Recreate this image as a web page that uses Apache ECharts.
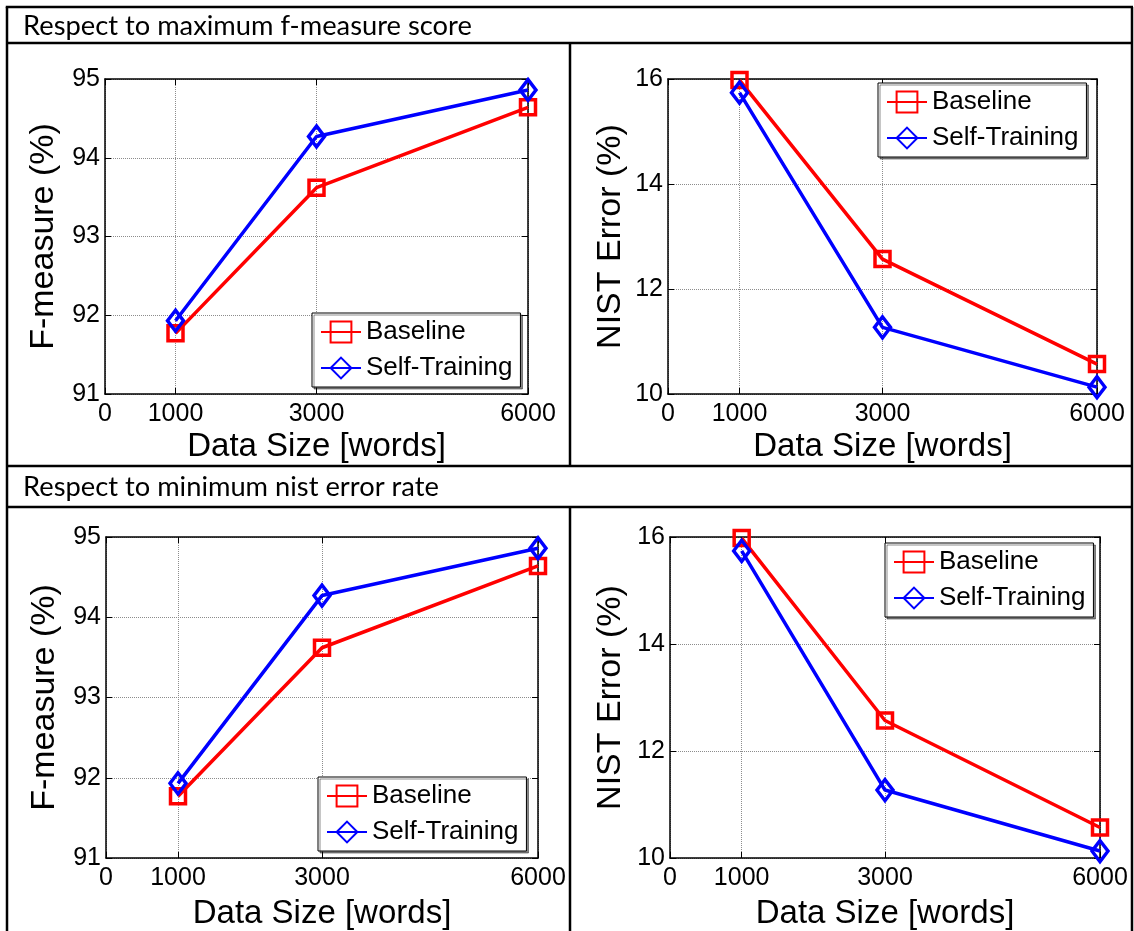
<!DOCTYPE html>
<html>
<head>
<meta charset="utf-8">
<script src="https://cdn.jsdelivr.net/npm/echarts@6/dist/echarts.min.js"></script>
<style>
  html, body { margin: 0; padding: 0; background: #fff; }
  #chart { width: 1134px; height: 931px; }
</style>
</head>
<body>
<div id="chart"></div>
<script>
// Data size (words) on the x axis, and tick positions
const dataSizes = [1000, 3000, 6000];
const xTicks = [0, 1000, 3000, 6000];

// F-measure (%) per data size
const baselineF = [91.77, 93.62, 94.64];
const selfTrainingF = [91.93, 94.27, 94.86];

// NIST error (%) per data size
const baselineNist = [15.98, 12.57, 10.57];
const selfTrainingNist = [15.74, 11.27, 10.13];

// Value ranges and tick steps of the two y axes
const fRange = [91, 95, 1];
const nistRange = [10, 16, 2];

const seriesNames = ['Baseline', 'Self-Training'];
const sectionTitles = ['Respect to maximum f-measure score', 'Respect to minimum nist error rate'];
const xName = 'Data Size [words]';
const fName = 'F-measure (%)';
const nistName = 'NIST Error (%)';

const FONT = '"Liberation Sans", Arial, sans-serif';
const RED = '#ff0000';
const BLUE = '#0000ff';

// panel layout: plot box, axis name gaps, legend position
const panels = [
  { grid: { left: 105, top: 79, width: 423, height: 315 }, yName: fName, range: fRange,
    base: baselineF, self: selfTrainingF, yGap: 44, xGap: 36, legend: { left: 312, top: 313 } },
  { grid: { left: 668, top: 79, width: 429, height: 315 }, yName: nistName, range: nistRange,
    base: baselineNist, self: selfTrainingNist, yGap: 40, xGap: 36, legend: { left: 878, top: 83 } },
  { grid: { left: 106, top: 537, width: 432, height: 321 }, yName: fName, range: fRange,
    base: baselineF, self: selfTrainingF, yGap: 44, xGap: 39, legend: { left: 318, top: 777 } },
  { grid: { left: 670, top: 537, width: 430, height: 321 }, yName: nistName, range: nistRange,
    base: baselineNist, self: selfTrainingNist, yGap: 42, xGap: 39, legend: { left: 885, top: 543 } }
];

const pairs = (ys) => dataSizes.map((x, i) => [x, ys[i]]);

const boxLine = { show: true, onZero: false, lineStyle: { color: '#000', width: 1.5 } };
const innerTick = { show: true, inside: true, length: 6, lineStyle: { color: '#000', width: 1 } };
const gridLine = { show: true, lineStyle: { color: '#8c8c8c', width: 1, type: [1, 1] } };

const grids = [], xAxes = [], yAxes = [], series = [], legends = [];

panels.forEach((p, i) => {
  grids.push(Object.assign({ containLabel: false }, p.grid));

  const xCommon = { type: 'value', gridIndex: i, min: 0, max: 6000, interval: 1000 };
  xAxes.push(Object.assign({}, xCommon, {
    position: 'bottom',
    name: xName, nameLocation: 'middle', nameGap: p.xGap,
    nameTextStyle: { fontFamily: FONT, fontSize: 33, color: '#000' },
    axisLine: boxLine,
    axisTick: Object.assign({ customValues: xTicks }, innerTick),
    axisLabel: { customValues: xTicks, showMinLabel: true, showMaxLabel: true,
      formatter: (v) => String(v),
      margin: 8, fontFamily: FONT, fontSize: 25, color: '#000' },
    splitLine: gridLine
  }));
  xAxes.push(Object.assign({}, xCommon, {
    position: 'top',
    axisLine: boxLine,
    axisTick: Object.assign({ customValues: xTicks }, innerTick),
    axisLabel: { show: false },
    splitLine: { show: false }
  }));

  const yCommon = { type: 'value', gridIndex: i, min: p.range[0], max: p.range[1], interval: p.range[2] };
  yAxes.push(Object.assign({}, yCommon, {
    position: 'left',
    name: p.yName, nameLocation: 'middle', nameGap: p.yGap,
    nameTextStyle: { fontFamily: FONT, fontSize: 34, color: '#000' },
    axisLine: boxLine,
    axisTick: innerTick,
    axisLabel: { showMinLabel: true, showMaxLabel: true, margin: 5,
      fontFamily: FONT, fontSize: 25, color: '#000' },
    splitLine: gridLine
  }));
  yAxes.push(Object.assign({}, yCommon, {
    position: 'right',
    axisLine: boxLine,
    axisTick: innerTick,
    axisLabel: { show: false },
    splitLine: { show: false }
  }));

  series.push({
    name: seriesNames[0], type: 'line', xAxisIndex: 2 * i, yAxisIndex: 2 * i,
    data: pairs(p.base), symbol: 'rect', symbolSize: 15, clip: false,
    lineStyle: { color: RED, width: 3.5 },
    itemStyle: { color: 'rgba(0,0,0,0)', borderColor: RED, borderWidth: 3.5 },
    emphasis: { disabled: true }, z: 3
  });
  series.push({
    name: seriesNames[1], type: 'line', xAxisIndex: 2 * i, yAxisIndex: 2 * i,
    data: pairs(p.self), symbol: 'diamond', symbolSize: [16, 21], clip: false,
    lineStyle: { color: BLUE, width: 3.5 },
    itemStyle: { color: 'rgba(0,0,0,0)', borderColor: BLUE, borderWidth: 3.5 },
    emphasis: { disabled: true }, z: 4
  });

  legends.push({
    data: seriesNames, orient: 'vertical', left: p.legend.left, top: p.legend.top,
    padding: [6, 8, 6, 8], itemGap: 10, itemWidth: 40, itemHeight: 26,
    selectedMode: false,
    borderColor: '#000', borderWidth: 1, backgroundColor: '#fff',
    shadowColor: 'rgba(0,0,0,0.45)', shadowOffsetX: 2, shadowOffsetY: 2, shadowBlur: 0,
    textStyle: { fontFamily: FONT, fontSize: 26, color: '#000' }, z: 10
  });
});

// table frame and section headers
const rule = (x1, y1, x2, y2) => ({
  type: 'line', shape: { x1, y1, x2, y2 }, style: { stroke: '#000', lineWidth: 2.5 }, silent: true, z: 20
});
const headerFont = '27.3px Lato, "Open Sans", sans-serif';
const graphics = [
  rule(5.75, 7, 1133, 7),
  rule(7, 7, 7, 931),
  rule(1132, 7, 1132, 931),
  rule(7, 43, 1132, 43),
  rule(7, 466, 1132, 466),
  rule(7, 507, 1132, 507),
  rule(570, 43, 570, 466),
  rule(570, 507, 570, 931),
  { type: 'text', x: 23, y: 26, silent: true,
    style: { text: sectionTitles[0], font: headerFont, fill: '#000', verticalAlign: 'middle' } },
  { type: 'text', x: 23, y: 487, silent: true,
    style: { text: sectionTitles[1], font: headerFont, fill: '#000', verticalAlign: 'middle' } }
];

const chart = echarts.init(document.getElementById('chart'), null, { renderer: 'canvas' });
chart.setOption({
  backgroundColor: '#fff',
  animation: false,
  grid: grids,
  xAxis: xAxes,
  yAxis: yAxes,
  legend: legends,
  series: series,
  graphic: graphics
});
</script>
</body>
</html>
